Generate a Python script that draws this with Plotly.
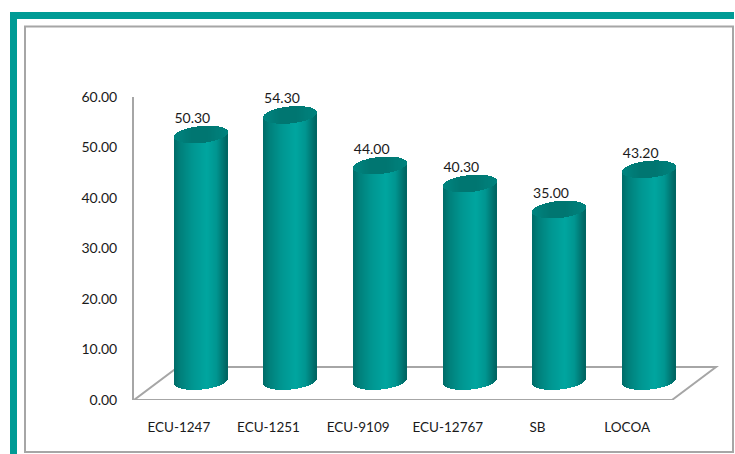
import numpy as np
import plotly.graph_objects as go

categories = ["ECU-1247", "ECU-1251", "ECU-9109", "ECU-12767", "SB", "LOCOA"]
values = [50.30, 54.30, 44.00, 40.30, 35.00, 43.20]
y_ticks = [0, 10, 20, 30, 40, 50, 60]

W, H = 735, 454
L, R, T, B = 134, 672, 97, 400
EXTRA = 50                # room to the right of the front axis for the 3-D floor
PX = (R - L) / 6          # px per category
PY = (B - T) / 60         # px per y unit
DX = 22 / PX              # cylinder depth shift
BASE = 19 / PY            # cylinder base height
SCALE = 4.9 / PY          # 3-D foreshortening of values
HALF_W = 26.5 / PX
RY = 8.5 / PY
TILT = 2.5 / PY
N = 53

def shade(u, cap=False):
    stops = [0, .12, .35, .62, .8, 1]
    if cap:
        cols = [(0, 132, 127), (0, 128, 123), (0, 118, 113), (0, 118, 113), (0, 125, 120), (0, 130, 125)]
    else:
        cols = [(0, 108, 104), (0, 128, 123), (0, 150, 145), (0, 166, 160), (0, 150, 145), (0, 100, 97)]
    c = [int(np.interp(u, stops, [k[i] for k in cols])) for i in range(3)]
    return f"rgb({c[0]},{c[1]},{c[2]})"

fig = go.Figure()
idx = np.arange(len(values))
vals = np.array(values)
tops = BASE + vals * SCALE
edges = np.linspace(-1, 1, N + 1)
mids = (edges[:-1] + edges[1:]) / 2
sw = 2 * HALF_W / N

for kind in ("body", "cap"):
    for m in mids:
        arc = RY * np.sqrt(1 - m * m)
        tilt = TILT * m
        u = (m + 1) / 2
        if kind == "body":
            base = np.full(len(vals), BASE - arc + tilt)
            height = tops - arc + tilt - base
        else:
            base = tops - arc + tilt
            height = np.full(len(vals), 2 * arc)
        fig.add_bar(x=idx + DX + m * HALF_W, y=height, base=base, width=sw * 1.25,
                    marker=dict(color=shade(u, kind == "cap"), line=dict(width=0)),
                    hoverinfo="skip", showlegend=False)

fig.add_scatter(x=idx + DX - 8.5 / PX, y=tops + RY - 0.1, mode="text",
                text=[f"{v:.2f}" for v in values], textposition="top center",
                textfont=dict(family="Lato", size=14, color="#1a1a1a"),
                cliponaxis=False, hoverinfo="skip", showlegend=False)

PLOT_W = R + EXTRA - L
def fx(p): return (p - L) / PLOT_W
def fy(p): return 1 - (p - T) / (B - T)

GREY = "#a6a6a6"
TEAL = "#009b95"
shapes = [
    # floor
    dict(type="path", xref="x", yref="y", layer="below",
         path=f"M -0.5 0 L {-0.5 + 44 / PX} {33 / PY} L {5.5 + 44 / PX} {33 / PY} L 5.5 0 Z",
         line=dict(color=GREY, width=2), fillcolor="white"),
    # outer teal frame
    dict(type="rect", xref="paper", yref="paper", layer="below",
         x0=fx(10), x1=fx(17), y0=fy(H), y1=fy(12), fillcolor=TEAL, line=dict(width=0)),
    dict(type="rect", xref="paper", yref="paper", layer="below",
         x0=fx(10), x1=fx(734), y0=fy(19), y1=fy(12), fillcolor=TEAL, line=dict(width=0)),
    # inner grey frame
    dict(type="rect", xref="paper", yref="paper", layer="below",
         x0=fx(25), x1=fx(733), y0=fy(452), y1=fy(26.5), fillcolor="rgba(0,0,0,0)",
         line=dict(color=GREY, width=2)),
]

fig.update_layout(
    width=W, height=H, autosize=False, barmode="overlay", bargap=0,
    margin=dict(l=L, r=W - R - EXTRA, t=T, b=H - B, pad=0),
    paper_bgcolor="white", plot_bgcolor="rgba(0,0,0,0)", showlegend=False,
    shapes=shapes,
    xaxis=dict(range=[-0.5, 5.5 + EXTRA / PX], tickmode="array", tickvals=list(idx), ticktext=categories,
               showgrid=False, zeroline=False, showline=False,
               ticks="", ticklabelstandoff=17, tickfont=dict(family="Lato", size=13.5, color="#1a1a1a")),
    yaxis=dict(range=[0, 60], tickmode="array", tickvals=y_ticks,
               ticktext=[f"{t:.2f}" for t in y_ticks],
               showgrid=False, zeroline=False, showline=True, linecolor=GREY, linewidth=2,
               ticks="", ticklabelstandoff=12, tickfont=dict(family="Lato", size=14, color="#1a1a1a")),
)
fig.write_html("out.html", config=dict(displayModeBar=False),
               post_script="document.body.style.margin='0';")
